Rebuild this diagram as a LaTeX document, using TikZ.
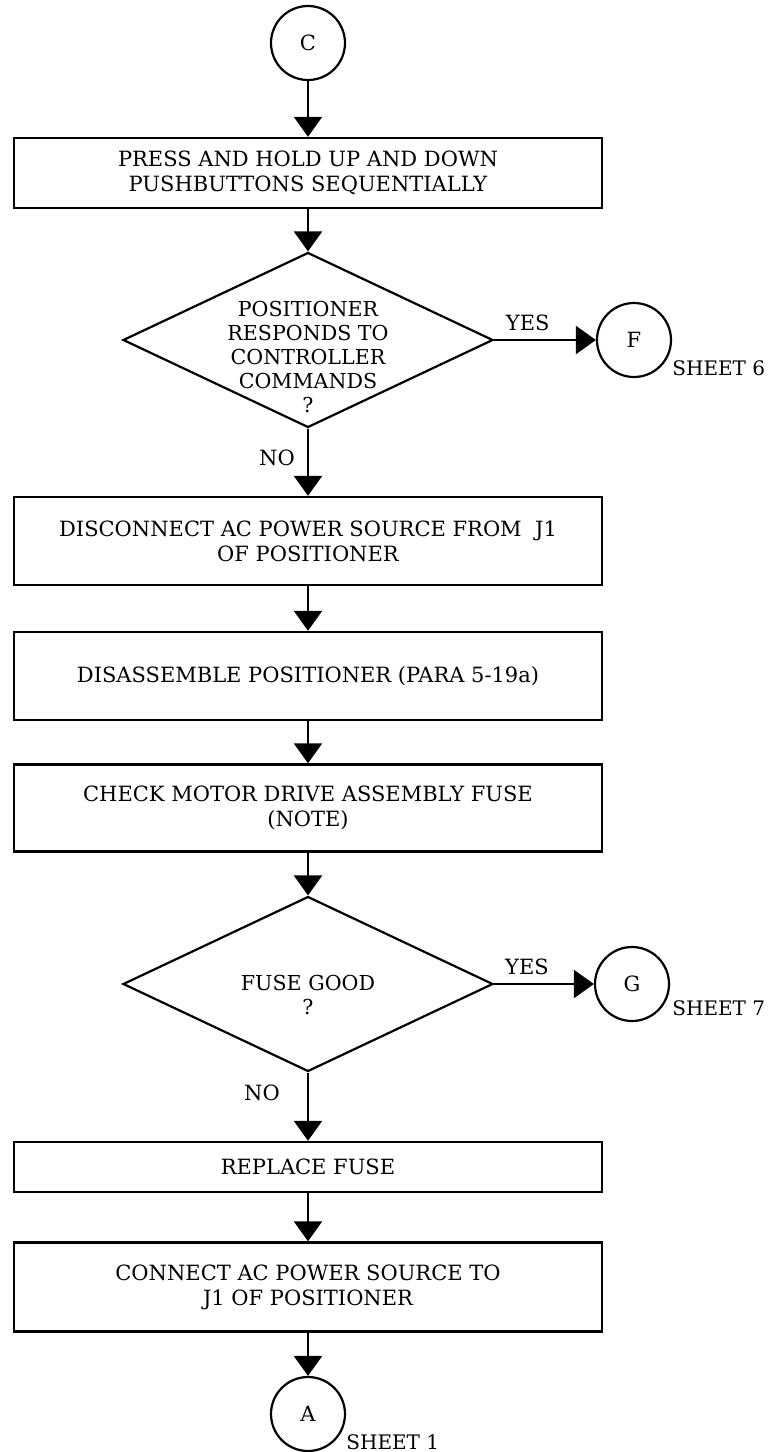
\documentclass[tikz,border=0pt]{standalone}
\usepackage{fontspec}
\setmainfont{DejaVu Serif}
\usetikzlibrary{shapes.geometric,arrows.meta}
\begin{document}
\begin{tikzpicture}[x=0.5pt,y=-0.5pt,
  every node/.style={font=\fontsize{10.5}{12.5}\selectfont},
  stepbox/.style={draw,line width=1.2pt,rectangle,minimum width=294pt,align=center,inner sep=0pt},
  decide/.style={draw,line width=1.1pt,diamond,minimum width=185pt,minimum height=87.5pt,inner sep=0pt},
  conn/.style={draw,line width=1.1pt,circle,minimum size=37pt,inner sep=0pt},
  flow/.style={line width=1.2pt,-{Triangle[length=10pt,width=14pt]}},
  lbl/.style={inner sep=0pt},
  sheet/.style={inner sep=0pt,anchor=west,font=\fontsize{10}{12}\selectfont},
  qtext/.style={align=center,inner sep=0pt,font=\fontsize{10.3}{12}\selectfont}
]
\path[use as bounding box] (0,0) rectangle (770,1452);

\node[conn] (C) at (308,43) {C};
\node[stepbox,minimum height=35pt] (b1) at (308,173) {PRESS AND HOLD UP AND DOWN\\PUSHBUTTONS SEQUENTIALLY};
\node[decide] (d1) at (308,340) {};
\node[qtext] (t1) at (308,357) {POSITIONER\\RESPONDS TO\\CONTROLLER\\COMMANDS\\?};
\node[conn] (F) at (634,340) {F};
\node[sheet] (s6) at (672,368) {SHEET 6};
\node[stepbox,minimum height=44pt] (b2) at (308,541) {DISCONNECT AC POWER SOURCE FROM~ J1\\OF POSITIONER};
\node[stepbox,minimum height=44pt] (b3) at (308,676) {DISASSEMBLE POSITIONER (PARA 5-19a)};
\node[stepbox,minimum height=43.5pt] (b4) at (308,808) {CHECK MOTOR DRIVE ASSEMBLY FUSE\\(NOTE)};
\node[decide] (d2) at (308,984) {};
\node[qtext] (t2) at (308,995) {FUSE GOOD\\?};
\node[conn] (G) at (632,984) {G};
\node[sheet] (s7) at (672,1008) {SHEET 7};
\node[stepbox,minimum height=25pt] (b5) at (308,1167) {REPLACE FUSE};
\node[stepbox,minimum height=44.5pt] (b6) at (308,1287) {CONNECT AC POWER SOURCE TO\\J1 OF POSITIONER};
\node[conn] (A) at (308,1414) {A};
\node[sheet] (s1) at (346,1442) {SHEET 1};

\draw[flow] (C) -- (b1);
\draw[flow] (b1) -- (d1.north);
\draw[flow] (d1.east) -- node[pos=0.33,above,inner sep=0pt,yshift=4pt] (y1) {YES} (F);
\draw[flow] (d1.south) -- node[pos=0.43,left,inner sep=0pt,xshift=-6pt] (n1) {NO} (b2);
\draw[flow] (b2) -- (b3);
\draw[flow] (b3) -- (b4);
\draw[flow] (b4) -- (d2.north);
\draw[flow] (d2.east) -- node[pos=0.33,above,inner sep=0pt,yshift=4pt] (y2) {YES} (G);
\draw[flow] (d2.south) -- node[pos=0.29,left,inner sep=0pt,xshift=-13.5pt] (n2) {NO} (b5);
\draw[flow] (b5) -- (b6);
\draw[flow] (b6) -- (A);
\end{tikzpicture}
\end{document}
